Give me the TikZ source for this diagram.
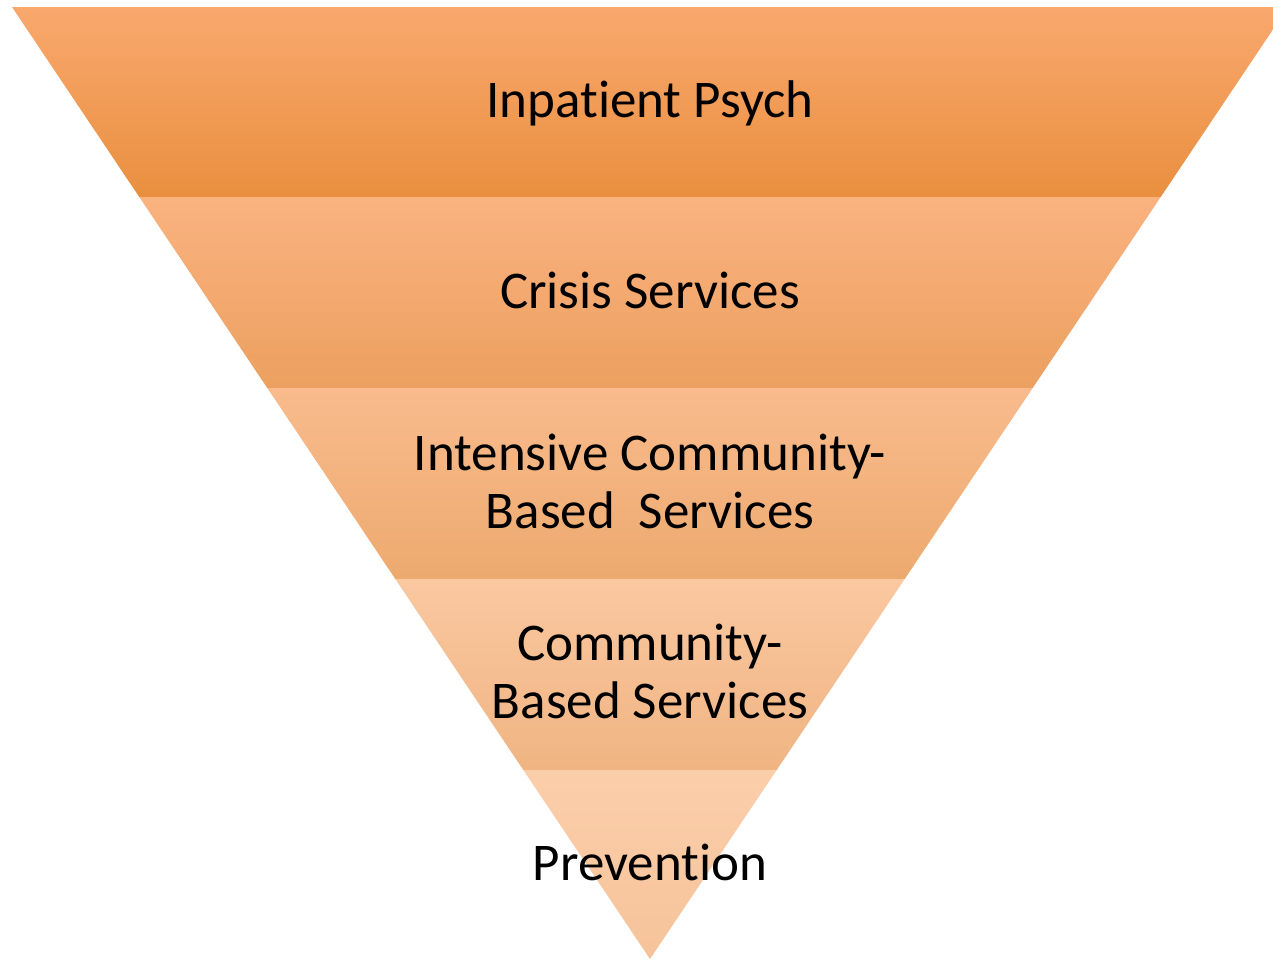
\documentclass[tikz,border=0pt]{standalone}
\usepackage{fontspec}
\setmainfont{Carlito}[Ligatures=NoCommon]
\definecolor{aT}{HTML}{F9A86E}\definecolor{aM}{HTML}{FEA04E}\definecolor{aB}{HTML}{E98F3F}
\definecolor{bT}{HTML}{FAB27F}\definecolor{bM}{HTML}{FDAB64}\definecolor{bB}{HTML}{ECA060}
\definecolor{cT}{HTML}{F9BB8D}\definecolor{cM}{HTML}{FCB476}\definecolor{cB}{HTML}{EDAA6F}
\definecolor{dT}{HTML}{FAC8A1}\definecolor{dM}{HTML}{FCC392}\definecolor{dB}{HTML}{F0B482}
\definecolor{eT}{HTML}{FBCEAA}\definecolor{eM}{HTML}{FBC9A0}\definecolor{eB}{HTML}{F6C39A}
\tikzset{
  lbl/.style={font=\fontsize{53}{58}\selectfont, align=center, anchor=base, inner sep=0pt, text=black}
}
\begin{document}
\begin{tikzpicture}[x=1pt,y=-1pt]
\useasboundingbox (0,0) rectangle (1273,959);
\clip (0,0) rectangle (1273,959);
\shade[top color=aT, middle color=aM, bottom color=aB] (12,7) -- (1288,7) -- (1160.7,197) -- (139.3,197) -- cycle;
\shade[top color=bT, middle color=bM, bottom color=bB] (139.3,197) -- (1160.7,197) -- (1032.7,388) -- (267.3,388) -- cycle;
\shade[top color=cT, middle color=cM, bottom color=cB] (267.3,388) -- (1032.7,388) -- (904.7,579) -- (395.3,579) -- cycle;
\shade[top color=dT, middle color=dM, bottom color=dB] (395.3,579) -- (904.7,579) -- (776.7,770) -- (523.3,770) -- cycle;
\shade[top color=eT, middle color=eM, bottom color=eB] (523.3,770) -- (776.7,770) -- (650,959) -- cycle;
\node[lbl] (t1) at (650,117) {Inpatient Psych};
\node[lbl] (t2) at (650,308) {Crisis Services};
\node[lbl] (t3) at (650,528) {Intensive Community-\\Based\ \ Services};
\node[lbl] (t4) at (650,718) {Community-\\Based Services};
\node[lbl] (t5) at (650,880) {Prevention};
\end{tikzpicture}
\end{document}
